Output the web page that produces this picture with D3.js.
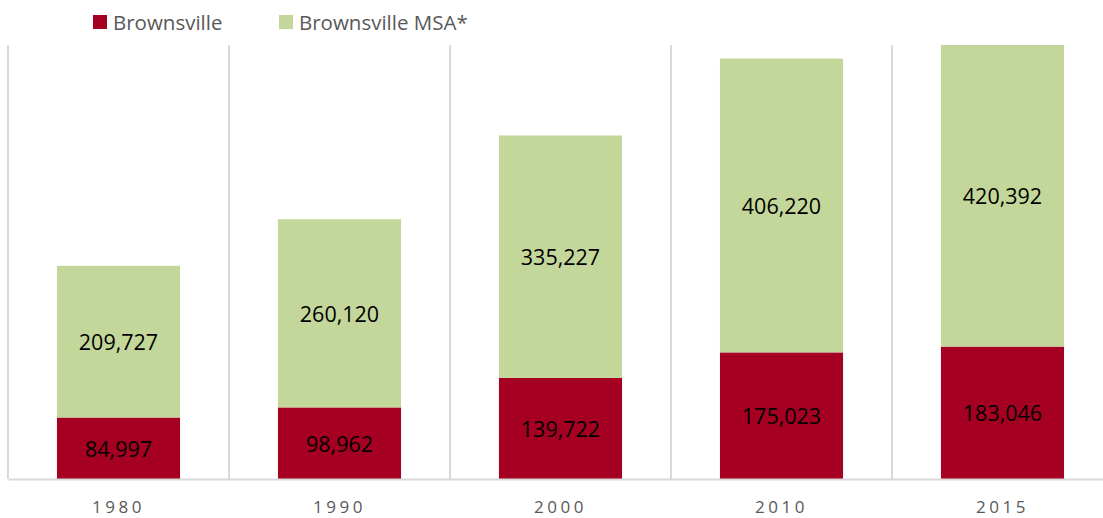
<!DOCTYPE html>
<html>
<head>
<meta charset="utf-8">
<script src="https://cdn.jsdelivr.net/npm/d3@7"></script>
<style>
  body { margin: 0; background: #fff; }
  svg { display: block; }
</style>
</head>
<body>
<div id="container"></div>
<script>
// chart data
const years = ["1980", "1990", "2000", "2010", "2015"];
const cityValues = [84997, 98962, 139722, 175023, 183046];
const msaValues = [209727, 260120, 335227, 406220, 420392];
const seriesNames = ["Brownsville", "Brownsville MSA*"];
const seriesColors = ["#a50021", "#c4d79b"];

const W = 1103, H = 518;
const margin = { top: 45, left: 8, bottom: 39 };
const plotW = 221 * years.length;
const plotH = H - margin.top - margin.bottom;

const svg = d3.select("#container").append("svg")
  .attr("width", W)
  .attr("height", H);

svg.append("defs").append("clipPath").attr("id", "plot-clip")
  .append("rect").attr("width", plotW).attr("height", plotH);

const g = svg.append("g")
  .attr("transform", `translate(${margin.left}, ${margin.top})`);

const x = d3.scaleBand()
  .domain(years)
  .range([0, plotW])
  .paddingInner(0.443)
  .paddingOuter(0.2215);

const y = d3.scaleLinear()
  .domain([0, 600000])
  .range([plotH, 0]);

// vertical category separators
const step = x.step();
g.selectAll("line.sep")
  .data(years)
  .join("line")
  .attr("class", "sep")
  .attr("x1", (d, i) => i * step)
  .attr("x2", (d, i) => i * step)
  .attr("y1", 0)
  .attr("y2", plotH)
  .attr("stroke", "#d9d9d9")
  .attr("stroke-width", 2);

// stacked data
const rows = years.map((yr, i) => ({ year: yr, city: cityValues[i], msa: msaValues[i] }));
const stack = d3.stack().keys(["city", "msa"])(rows);

const bars = g.append("g").attr("clip-path", "url(#plot-clip)");
stack.forEach((layer, li) => {
  bars.selectAll(null)
    .data(layer)
    .join("rect")
    .attr("x", d => x(d.data.year))
    .attr("width", x.bandwidth())
    .attr("y", d => y(d[1]))
    .attr("height", d => y(d[0]) - y(d[1]))
    .attr("fill", seriesColors[li]);

  bars.selectAll(null)
    .data(layer)
    .join("text")
    .attr("x", d => x(d.data.year) + x.bandwidth() / 2)
    .attr("y", d => (Math.max(y(d[1]), 0) + y(d[0])) / 2)
    .attr("text-anchor", "middle")
    .attr("dominant-baseline", "central")
    .style("font-family", "'Open Sans', 'Noto Sans', sans-serif")
    .style("font-size", "21.5px")
    .style("fill", "#000")
    .text(d => d3.format(",")(d[1] - d[0]));
});

// x axis
const xAxis = g.append("g")
  .attr("transform", `translate(0, ${plotH})`)
  .call(d3.axisBottom(x).tickSize(0).tickPadding(22));
xAxis.select(".domain")
  .attr("stroke", "#d9d9d9")
  .attr("stroke-width", 2);
xAxis.selectAll("text")
  .style("font-family", "'Open Sans', 'Noto Sans', sans-serif")
  .style("font-size", "17px")
  .style("letter-spacing", "3.5px")
  .style("fill", "#595959");

// legend
const legendX = [93, 279];
const legend = svg.append("g");
seriesNames.forEach((name, i) => {
  const lg = legend.append("g").attr("transform", `translate(${legendX[i]}, 15)`);
  lg.append("rect").attr("width", 14).attr("height", 14).attr("fill", seriesColors[i]);
  lg.append("text")
    .attr("x", 20)
    .attr("y", 7)
    .attr("dominant-baseline", "central")
    .style("font-family", "'Open Sans', 'Noto Sans', sans-serif")
    .style("font-size", "20.5px")
    .style("fill", "#595959")
    .text(name);
});
</script>
</body>
</html>
